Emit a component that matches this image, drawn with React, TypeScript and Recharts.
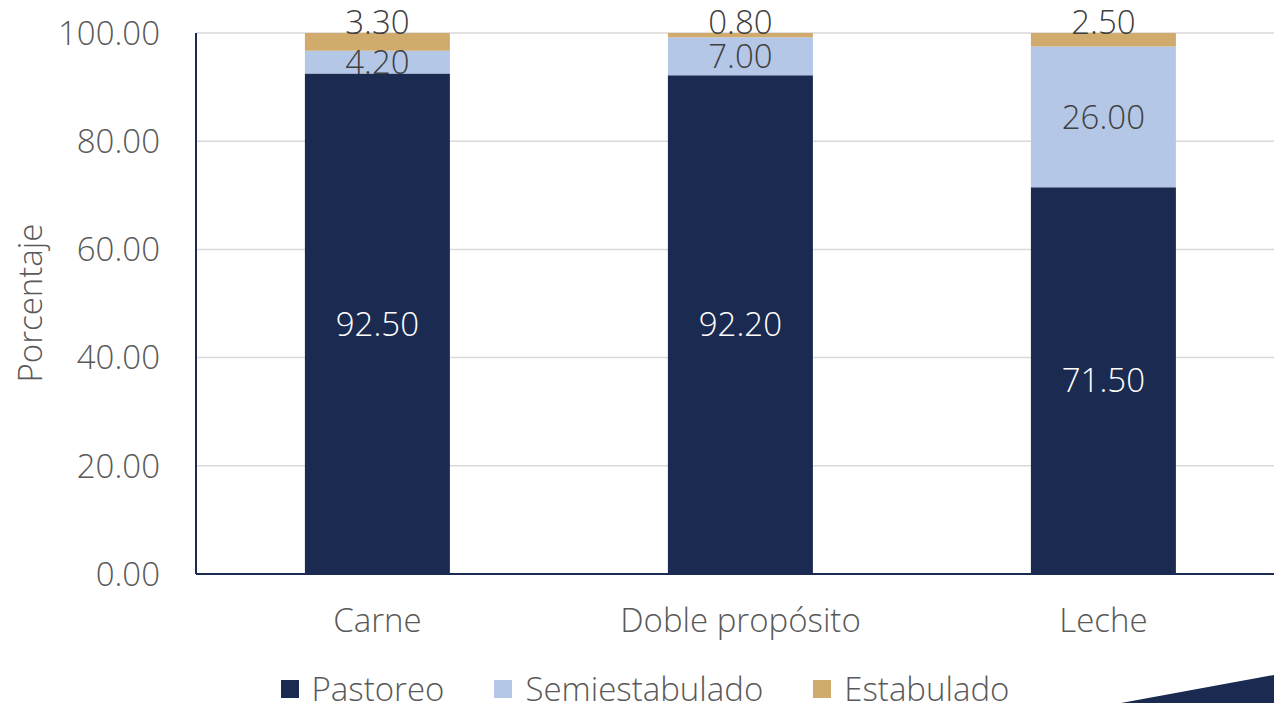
import { BarChart, Bar, XAxis, YAxis, CartesianGrid, Legend, LabelList } from "recharts";

const categories = ["Carne", "Doble propósito", "Leche"];
const pastoreo = [92.5, 92.2, 71.5];
const semiestabulado = [4.2, 7.0, 26.0];
const estabulado = [3.3, 0.8, 2.5];
const yTicks = [0, 20, 40, 60, 80, 100];

const data = categories.map((name, i) => ({
  name,
  Pastoreo: pastoreo[i],
  Semiestabulado: semiestabulado[i],
  Estabulado: estabulado[i],
}));

const NAVY = "#1b2a50";
const LIGHT = "#b4c7e7";
const GOLD = "#d1ab6c";
const FONT = "'Open Sans', sans-serif";
const FS = 33;

const fmt = (v: any) => Number(v).toFixed(2);

const makeLabel = (fill: string, mode: "center" | "above") => (props: any) => {
  const { x, y, width, height, value } = props;
  const cx = Number(x) + Number(width) / 2;
  const cy = mode === "center" ? Number(y) + Number(height) / 2 : Number(y) - 11;
  return (
    <text
      x={cx}
      y={cy}
      dy="0.36em"
      textAnchor="middle"
      fill={fill}
      fontSize={FS}
      fontWeight={300}
      fontFamily={FONT}
    >
      {fmt(value)}
    </text>
  );
};

const legendItems = [
  { label: "Pastoreo", color: NAVY },
  { label: "Semiestabulado", color: LIGHT },
  { label: "Estabulado", color: GOLD },
];

const renderLegend = () => (
  <div
    style={{
      display: "flex",
      justifyContent: "center",
      gap: 50,
      fontFamily: FONT,
      fontWeight: 300,
      fontSize: FS,
      lineHeight: "34px",
      color: "#595959",
    }}
  >
    {legendItems.map((it) => (
      <div key={it.label} style={{ display: "flex", alignItems: "center" }}>
        <span style={{ width: 18, height: 18, background: it.color, marginRight: 13, display: "inline-block" }} />
        <span>{it.label}</span>
      </div>
    ))}
  </div>
);

const yLabel = () => (
  <text
    x={30}
    y={303}
    transform="rotate(-90 30 303)"
    textAnchor="middle"
    dy="0.36em"
    fill="#595959"
    fontSize={FS}
    fontWeight={300}
    fontFamily={FONT}
  >
    Porcentaje
  </text>
);

export default function App() {
  const tickStyle = { fill: "#595959", fontSize: FS, fontWeight: 300, fontFamily: FONT };
  return (
    <div
      style={{
        position: "absolute",
        left: 0,
        top: 0,
        width: 1274,
        height: 703,
        overflow: "hidden",
        background: "#fff",
      }}
    >
      <BarChart
        width={1290}
        height={703}
        data={data}
        margin={{ top: 33, right: 5, bottom: 65, left: 0 }}
        barCategoryGap="30%"
      >
        <CartesianGrid vertical={false} stroke="#d9d9d9" strokeWidth={1.5} />
        <XAxis
          dataKey="name"
          tick={tickStyle}
          tickLine={false}
          tickSize={0}
          tickMargin={35}
          axisLine={{ stroke: NAVY, strokeWidth: 2 }}
        />
        <YAxis
          width={196}
          domain={[0, 100]}
          ticks={yTicks}
          tickFormatter={fmt}
          tick={tickStyle}
          tickLine={false}
          tickSize={0}
          tickMargin={36}
          axisLine={{ stroke: NAVY, strokeWidth: 2 }}
          label={yLabel}
        />
        <Legend
          content={renderLegend}
          wrapperStyle={{ top: 672, left: 0, width: 1290 }}
        />
        <Bar dataKey="Pastoreo" stackId="a" fill={NAVY} isAnimationActive={false}>
          <LabelList dataKey="Pastoreo" content={makeLabel("#ffffff", "center")} />
        </Bar>
        <Bar dataKey="Semiestabulado" stackId="a" fill={LIGHT} isAnimationActive={false}>
          <LabelList dataKey="Semiestabulado" content={makeLabel("#404040", "center")} />
        </Bar>
        <Bar dataKey="Estabulado" stackId="a" fill={GOLD} isAnimationActive={false}>
          <LabelList dataKey="Estabulado" content={makeLabel("#404040", "above")} />
        </Bar>
      </BarChart>
      <svg
        width={1274}
        height={703}
        style={{ position: "absolute", left: 0, top: 0, pointerEvents: "none" }}
      >
        <polygon points="1121,703 1274,675 1274,703" fill={NAVY} />
      </svg>
    </div>
  );
}
